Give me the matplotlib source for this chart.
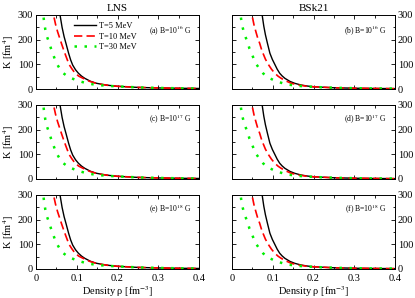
import numpy as np
import matplotlib
matplotlib.use("Agg")
import matplotlib.pyplot as plt
from matplotlib.ticker import MultipleLocator

plt.rcParams['font.family'] = ['Liberation Serif', 'DejaVu Serif']
plt.rcParams['mathtext.fontset'] = 'stix'

# density points [fm^-3] and K [fm^4]
rho_lns_5 = [0.056, 0.059, 0.064, 0.069, 0.074, 0.080, 0.085, 0.090, 0.097, 0.104, 0.112, 0.120,
             0.134, 0.149, 0.165, 0.18, 0.20, 0.25, 0.30, 0.35, 0.40]
k_lns_5 = [340, 300, 250, 212, 182, 145, 118, 97, 78, 64, 52, 43, 31, 23, 18, 14.5, 11, 6.5, 4.3, 3, 2.2]
rho_lns_10 = [0.040, 0.043, 0.048, 0.053, 0.058, 0.063, 0.068, 0.073, 0.081, 0.088, 0.096, 0.105,
              0.116, 0.130, 0.145, 0.16, 0.18, 0.20, 0.25, 0.30, 0.35, 0.40]
k_lns_10 = [340, 300, 262, 232, 207, 182, 158, 135, 100, 82, 64, 52, 43, 32, 24, 19, 14, 11, 6.5, 4.3, 3, 2.2]
rho_lns_30 = [0.017, 0.018, 0.020, 0.023, 0.027, 0.033, 0.037, 0.041, 0.046, 0.052, 0.059, 0.067,
              0.077, 0.088, 0.100, 0.110, 0.125, 0.14, 0.16, 0.18, 0.20, 0.25, 0.30, 0.35, 0.40]
k_lns_30 = [330, 300, 270, 240, 212, 185, 163, 145, 122, 100, 80, 64, 52, 43, 35, 30, 23, 19, 15,
            12.5, 10.5, 6.5, 4.3, 3, 2.2]

rho_bsk_5 = [0.071, 0.074, 0.078, 0.082, 0.087, 0.093, 0.099, 0.105, 0.111, 0.117, 0.123, 0.130,
             0.142, 0.154, 0.17, 0.185, 0.20, 0.25, 0.30, 0.35, 0.40]
k_bsk_5 = [340, 300, 255, 220, 185, 145, 120, 100, 80, 64, 53, 43, 31, 23, 16, 12, 9, 5, 3.2, 2.2, 1.5]
rho_bsk_10 = [0.046, 0.049, 0.054, 0.059, 0.063, 0.068, 0.072, 0.076, 0.082, 0.089, 0.097, 0.105,
              0.113, 0.121, 0.133, 0.146, 0.16, 0.18, 0.20, 0.25, 0.30, 0.35, 0.40]
k_bsk_10 = [340, 300, 260, 230, 207, 185, 163, 145, 121, 100, 80, 64, 52, 43, 32, 23, 17, 12, 9,
            5, 3.2, 2.2, 1.5]
rho_bsk_30 = [0.020, 0.021, 0.024, 0.028, 0.033, 0.039, 0.043, 0.048, 0.054, 0.060, 0.068, 0.076,
              0.084, 0.093, 0.108, 0.125, 0.14, 0.16, 0.18, 0.20, 0.25, 0.30, 0.35, 0.40]
k_bsk_30 = [330, 300, 265, 237, 212, 185, 163, 145, 120, 100, 80, 64, 52, 43, 32, 23, 17.5, 13,
            10.5, 8.5, 5, 3.2, 2.2, 1.5]

models = ['LNS', 'BSk21']
fields = ['16', '17', '18']
letters = [['a', 'b'], ['c', 'd'], ['e', 'f']]
temps = ['T=5 MeV', 'T=10 MeV', 'T=30 MeV']
curves = {
    'LNS': [(rho_lns_5, k_lns_5), (rho_lns_10, k_lns_10), (rho_lns_30, k_lns_30)],
    'BSk21': [(rho_bsk_5, k_bsk_5), (rho_bsk_10, k_bsk_10), (rho_bsk_30, k_bsk_30)],
}
styles = [dict(color='black', ls='-', lw=1.0),
          dict(color='red', ls=(0, (5, 2.5)), lw=1.2),
          dict(color='#00ee00', ls=(0, (1, 3)), lw=1.8)]

fig = plt.figure(figsize=(4.15, 2.98), dpi=100)
lefts = [36 / 415, 232 / 415]
w = 163 / 415
bottoms = [1 - 89 / 298, 1 - 179 / 298, 1 - 269 / 298]
h = 74 / 298

for r in range(3):
    for c in range(2):
        ax = fig.add_axes([lefts[c], bottoms[r], w, h])
        m = models[c]
        for (x, y), st, lab in zip(curves[m], styles, temps):
            ax.plot(x, y, label=lab, **st)
        ax.set_xlim(0, 0.4)
        ax.set_ylim(0, 300)
        ax.xaxis.set_major_locator(MultipleLocator(0.1))
        ax.xaxis.set_minor_locator(MultipleLocator(0.05))
        ax.yaxis.set_major_locator(MultipleLocator(100))
        ax.yaxis.set_minor_locator(MultipleLocator(50))
        ax.tick_params(which='both', direction='in', top=True, right=True,
                       labelsize=7.5, pad=2)
        ax.tick_params(axis='x', which='major', pad=3.5)
        ax.tick_params(which='major', length=3, width=0.6)
        ax.tick_params(which='minor', length=1.8, width=0.6)
        for s in ax.spines.values():
            s.set_linewidth(0.7)
        ax.xaxis.set_major_formatter(plt.FuncFormatter(lambda v, p: '0' if v == 0 else '%g' % v))
        if c == 1:
            ax.yaxis.tick_right()
            ax.tick_params(which='both', left=True, labelleft=False, labelright=True)
        else:
            ax.set_ylabel('K [fm$^{4}$]', fontsize=7.5, labelpad=1)
        if r < 2:
            ax.tick_params(labelbottom=False)
        else:
            ax.set_xlabel('Density ρ [fm$^{-3}$]', fontsize=7.5, labelpad=1)
        if r == 0:
            ax.set_title(m, fontsize=8, pad=3)
        ax.text(0.95, 0.8, '(%s) B=10$^{%s}$ G' % (letters[r][c], fields[r]),
                transform=ax.transAxes, ha='right', va='center', fontsize=5.5)
        if r == 0 and c == 0:
            ax.legend(loc='upper left', bbox_to_anchor=(0.2, 0.98), frameon=False,
                      fontsize=6, handlelength=2.6, labelspacing=0.3,
                      handletextpad=0.4, borderpad=0.2)

fig.savefig('out.png', dpi=100)
